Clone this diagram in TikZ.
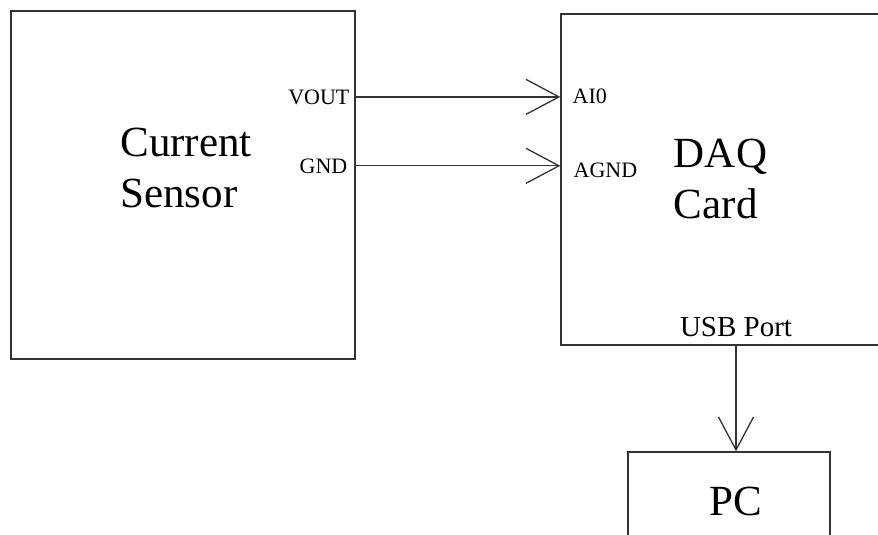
\documentclass[tikz,border=0pt]{standalone}
\usepackage{fontspec}
\setmainfont{Liberation Serif}
\usetikzlibrary{arrows.meta}

\begin{document}
\begin{tikzpicture}[x=1pt,y=-1pt,line width=1.3pt,draw=black!80,
    >={Straight Barb[length=33pt,width=35pt]},
    block/.style={draw=black!80,rectangle,inner sep=0pt},
    bigtext/.style={font=\fontsize{43}{51}\selectfont,align=left,inner sep=0pt},
    pinlbl/.style={font=\fontsize{22}{26}\selectfont,inner sep=0pt}]
  \clip (0,0) rectangle (878,535);
  \node[block,minimum width=344pt,minimum height=348pt] (sensor) at (183,185) {};
  \node[block,minimum width=339pt,minimum height=331pt] (daq) at (730.5,179.5) {};
  \node[block,minimum width=202pt,minimum height=98pt] (pc) at (729,501) {};
  \node[bigtext] (sensortxt) at (186,168) {Current\\Sensor};
  \node[bigtext] (daqtxt) at (720.5,179) {DAQ\\Card};
  \node[bigtext] (pctxt) at (735.5,501) {PC};
  \node[pinlbl,anchor=base east] (vout) at (350,104) {VOUT};
  \node[pinlbl,anchor=base east] (gnd) at (348,173) {GND};
  \node[pinlbl,anchor=base west] (ai0) at (572,103) {AI0};
  \node[pinlbl,anchor=base west] (agnd) at (573,177) {AGND};
  \node[pinlbl,font=\fontsize{29}{33}\selectfont,anchor=base] (usb) at (736,336) {USB Port};
  \draw[->] (vout.east -| sensor.east) -- (vout.east -| daq.west);
  \draw[->] (gnd.east -| sensor.east) -- (gnd.east -| daq.west);
  \draw[->] (usb |- daq.south) -- (usb |- pc.north);
\end{tikzpicture}
\end{document}
